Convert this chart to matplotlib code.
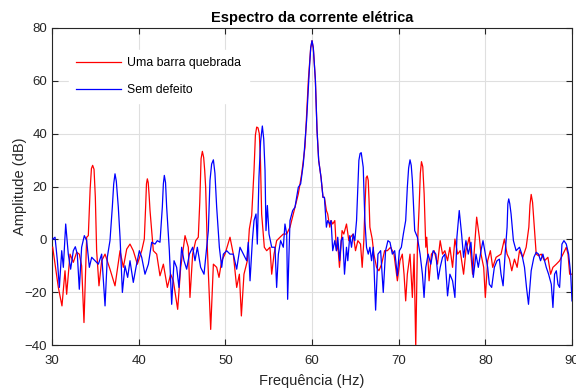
import matplotlib
matplotlib.use("Agg")
import matplotlib.pyplot as plt

# ---- data ----
freq_red = [30.08, 30.73, 31.15, 31.5, 31.69, 32.08, 32.46, 32.85, 33.15, 33.42, 33.69, 34.0, 34.19, 34.69,
            35.15, 35.42, 35.73, 36.12, 36.69, 37.27, 37.85, 38.23, 38.62, 39.0, 39.38, 39.85, 40.35, 40.65,
            41.0, 41.31, 41.69, 42.08, 42.46, 42.85, 43.31, 43.69, 44.0, 44.5, 44.85, 45.35, 45.73, 45.92,
            46.23, 46.58, 46.88, 47.35, 47.73, 47.92, 48.31, 48.62, 49.0, 49.27, 49.58, 49.96, 50.54, 50.92,
            51.31, 51.62, 51.85, 52.15, 52.54, 52.77, 53.04, 53.31, 53.62, 53.92, 54.19, 54.5, 54.77, 55.15,
            55.35, 55.62, 55.92, 56.31, 56.69, 57.08, 57.46, 58.04, 58.42, 58.81, 59.19, 59.58, 60.0,
            60.39, 60.58, 60.77, 61.04, 61.27, 61.43,
            61.66, 61.81, 62.05, 62.2, 62.39, 62.63, 62.82, 62.97, 63.17, 63.47, 63.67, 63.98, 64.25, 64.44,
            64.75, 65.02, 65.29, 65.6, 65.79, 65.98, 66.25, 66.49, 66.68, 66.95, 67.14, 67.45, 67.72, 68.03,
            68.38, 68.69, 69.07, 69.46, 69.85, 70.15, 70.42, 70.62, 70.81, 71.0, 71.31, 71.58, 71.78, 71.97,
            72.16, 72.36, 72.63, 72.94, 73.13, 73.24, 73.51, 73.78, 74.09, 74.48, 74.79, 75.06, 75.33, 75.64,
            75.91, 76.22, 76.49, 76.8, 77.1, 77.49, 77.76, 78.15, 78.53, 78.8, 79.0, 79.31, 79.5, 79.81,
            80.0, 80.27, 80.58, 80.85, 81.24, 81.81, 82.2, 82.51, 82.78, 83.05, 83.36, 83.67, 83.94, 84.32,
            84.71, 85.02, 85.29, 85.6, 85.87, 86.14, 86.45, 86.83, 87.22, 87.53, 87.8, 88.19, 88.57, 88.96,
            89.34, 89.54, 89.73, 90.0]
amp_red = [-3.0, -18.2, -25.2, -11.9, -20.8, -5.6, -8.7, -4.9, -5.6, -10.0, -31.5, 0.8, 1.4, 28.0,
           -4.3, -17.6, -8.1, -5.6, -11.3, -17.6, -4.3, -10.6, -3.7, -1.8, -4.3, -9.4, -4.3, 0.1,
           22.9, 10.9, -4.3, -5.6, -13.8, -9.4, -18.2, -13.2, -15.7, -26.5, -10.6, 1.4, -3.0, -22.0,
           -5.6, -0.5, 0.8, 33.3, 19.7, -3.0, -34.1, -9.4, -10.6, -14.4, -8.1, -5.6, 0.8, -5.6,
           -18.2, -13.2, -29.0, -13.2, -8.1, 3.9, 9.0, 26.1, 42.5, 40.0, 9.6, -3.0, -4.3, -3.0,
           -13.2, -5.6, -0.5, 0.8, 2.0, 2.0, 4.6, 12.2, 17.2, 24.8, 34.9, 60.3, 75.2,
           60.3, 41.3, 29.9, 23.5, 15.9, 15.9,
           10.9, 9.6, 4.6, 7.1, 5.8, 7.1, -4.3, -1.8, -10.6, 3.3, 2.0, 5.8, -0.5, 0.8,
           2.0, -4.3, -0.5, -1.8, -10.6, -0.5, 23.3, 22.3, 4.6, 0.1, -5.6, -10.6, -11.9, -9.4,
           -4.3, -4.3, -3.0, -5.6, -15.7, -8.1, -5.6, -13.2, -23.3, -13.2, -5.6, -22.0, -5.6, -41.0,
           -3.0, 12.2, 29.4, 17.2, -3.0, 0.8, -15.7, -5.6, -4.3, -9.4, -0.5, -5.6, -4.3, -8.1,
           -3.0, -10.6, 0.1, -5.6, -4.3, -13.2, -4.3, 0.8, -13.2, -0.5, 8.4, 0.8, -5.6, -10.6,
           -22.0, -8.1, -4.3, -10.6, -6.8, -5.6, 0.1, -5.6, -7.5, -11.9, -7.5, -10.6, -4.3, -6.8,
           -3.0, 4.6, 17.0, 7.1, -5.6, -6.2, -5.6, -8.1, -6.8, -13.2, -10.6, -9.4, -8.1, -5.6,
           -3.0, -5.6, -13.2, -13.2]
# extra points read along the rounded peak tops (red)
freq_red_peaks = [34.4, 34.55, 34.85, 35.0, 40.8, 40.9, 41.1, 41.2, 47.05, 47.2, 47.5, 47.62,
                  53.47, 53.77, 54.05, 59.85, 60.15, 66.1, 66.37, 66.58, 72.5, 72.78, 85.15, 85.45]
amp_red_peaks = [19.0, 26.8, 26.5, 16.0, 12.0, 21.0, 21.5, 17.0, 14.0, 30.5, 31.0, 26.0,
                 39.5, 42.2, 30.0, 72.5, 72.5, 12.0, 24.0, 15.0, 25.0, 27.5, 13.0, 14.0]

freq_blue = [30.08, 30.35, 30.62, 30.85, 31.12, 31.31, 31.58, 31.88, 32.15, 32.46, 32.69, 32.92, 33.15, 33.42,
             33.73, 34.0, 34.31, 34.58, 34.96, 35.35, 35.73, 36.12, 36.38, 36.69, 36.96, 37.27, 37.65, 37.85,
             38.12, 38.42, 38.73, 39.0, 39.38, 39.69, 40.08, 40.35, 40.73, 41.12, 41.5, 41.88, 42.15, 42.46,
             42.73, 42.96, 43.23, 43.54, 43.81, 44.08, 44.38, 44.65, 44.96, 45.23, 45.54, 45.85, 46.23, 46.5,
             46.77, 47.15, 47.54, 47.85, 48.04, 48.23, 48.62, 49.0, 49.31, 49.58, 49.77, 50.15, 50.54, 50.92,
             51.31, 51.69, 52.08, 52.46, 52.65, 52.85, 53.12, 53.31, 53.54, 53.69, 53.88, 54.27, 54.58, 54.69,
             54.85, 55.04, 55.35, 55.73, 55.92, 56.12, 56.38, 56.69, 56.88, 57.08, 57.19, 57.46, 57.77, 58.04,
             58.42, 58.69, 59.0, 59.38, 59.69, 60.0,
             60.39, 60.58, 60.77, 61.04, 61.27, 61.43,
             61.66, 61.81, 62.05, 62.2, 62.39, 62.63, 62.82, 62.97, 63.2, 63.36, 63.55, 63.75, 63.98, 64.13,
             64.36, 64.56, 64.75, 64.94, 65.14, 65.41, 65.68, 65.91, 66.1, 66.29, 66.49, 66.68, 66.87, 67.07,
             67.34, 67.61, 67.92, 68.22, 68.49, 68.76, 69.0, 69.27, 69.54, 69.85, 70.08, 70.31, 70.54, 70.81,
             71.0, 71.31, 71.58, 71.85, 72.16, 72.47, 72.74, 72.93, 73.13, 73.4, 73.71, 73.98, 74.29, 74.56,
             74.79, 75.06, 75.33, 75.64, 75.91, 76.22, 76.49, 76.72, 76.99, 77.26, 77.49, 77.76, 78.03, 78.34,
             78.61, 78.92, 79.19, 79.5, 79.73, 80.0, 80.27, 80.46, 80.73, 81.04, 81.35, 81.62, 81.81, 82.05,
             82.28, 82.51, 82.7, 82.97, 83.24, 83.55, 83.94, 84.21, 84.52, 84.75, 84.98, 85.29, 85.6, 85.87,
             86.14, 86.37, 86.64, 87.03, 87.3, 87.61, 87.8, 87.99, 88.19, 88.38, 88.57, 88.84, 89.07, 89.34,
             89.61, 89.85, 90.0]
amp_blue = [0.1, 0.8, -8.1, -18.2, -4.3, -10.6, 5.8, -5.6, -11.3, -4.3, -2.8, -5.6, -18.9, -3.0,
            1.4, -0.5, -10.6, -6.8, -8.1, -9.4, -5.6, -25.2, -6.8, -0.5, 12.2, 24.8, 12.2, 0.8,
            -20.1, -10.0, -14.4, -8.1, -16.3, -10.6, -4.3, -6.8, -13.2, -9.4, -1.1, -1.8, -0.5, -1.1,
            12.2, 24.2, 12.2, -4.3, -24.6, -8.1, -10.6, -18.2, -3.0, -8.1, -11.3, -5.6, -3.0, -8.1,
            -3.0, -10.6, -13.2, -3.0, 3.3, 22.3, 30.1, 12.2, -3.0, -10.6, -5.6, -4.3, -5.6, -5.6,
            -11.3, -3.0, -5.6, -8.1, -1.1, -15.7, -0.5, 7.1, 9.6, -1.8, 23.5, 42.9, 26.1, 3.3,
            12.8, 2.0, -3.0, -3.0, -18.2, -5.6, -0.5, -3.0, 5.8, 2.0, -22.7, 7.1, 10.9, 12.2,
            19.7, 21.0, 28.6, 45.1, 64.1, 75.2,
            60.3, 41.3, 29.9, 23.5, 15.9, 15.9,
            4.6, 7.1, 5.8, 7.1, -4.3, -0.5, -4.3, 0.8, -8.1, -0.5, 0.8, -13.2, -3.0, -8.1,
            1.4, -3.0, 2.0, -0.5, 7.1, 29.9, 32.8, 27.3, 7.1, -3.0, -5.6, -3.0, -8.1, -3.0,
            -26.8, -5.6, -4.3, -20.1, -4.3, -0.5, -1.1, -5.6, -4.3, -13.8, -4.3, -3.0, 2.0, 7.1,
            19.7, 30.1, 22.3, 3.3, 0.8, -5.6, -13.2, -22.0, -10.6, -5.6, -9.4, -4.3, -5.6, -15.1,
            -10.6, -6.8, -5.6, -21.4, -13.2, -15.7, -22.0, 0.8, 10.9, 2.0, -6.8, -0.5, -5.6, -1.1,
            -14.4, -5.6, -10.6, -4.3, -0.5, -5.6, -10.6, -17.0, -18.2, -10.6, -8.1, -7.5, -13.2, -17.6,
            -5.6, 4.6, 15.3, 9.6, -0.5, -4.3, -3.0, -5.6, -10.6, -18.2, -24.6, -11.9, -6.8, -4.9,
            -5.6, -8.1, -5.6, -10.6, -13.2, -17.0, -25.8, -13.2, -11.9, -17.0, -18.2, -1.8, -0.5, -1.8,
            -5.6, -13.2, -23.3]
# extra points read along the rounded peak tops (blue)
freq_blue_peaks = [37.12, 37.42, 42.85, 43.1, 48.42, 48.8, 54.07, 54.43, 59.85, 60.15,
                   65.55, 71.15, 71.45, 82.6, 82.82]
amp_blue_peaks = [21.0, 22.0, 21.0, 21.5, 28.5, 25.0, 37.0, 38.0, 72.5, 72.5,
                  32.5, 27.0, 28.0, 13.5, 13.5]

x_ticks = [30, 40, 50, 60, 70, 80, 90]
y_ticks = [-40, -20, 0, 20, 40, 60, 80]
label_red = "Uma barra quebrada"
label_blue = "Sem defeito"


def merged(xs, ys, xe, ye):
    pts = sorted(zip(list(xs) + list(xe), list(ys) + list(ye)))
    return [p[0] for p in pts], [p[1] for p in pts]


xr, yr = merged(freq_red, amp_red, freq_red_peaks, amp_red_peaks)
xb, yb = merged(freq_blue, amp_blue, freq_blue_peaks, amp_blue_peaks)

plt.rcParams['font.family'] = ['Liberation Sans', 'DejaVu Sans']
axc = '#262626'

fig = plt.figure(figsize=(5.76, 3.91), dpi=100)
ax = fig.add_axes([52/576, 1-345/391, 520/576, 317/391])

ax.plot(xr, yr, color='#ff0000', lw=0.9, label=label_red, zorder=3)
ax.plot(xb, yb, color='#0000ff', lw=0.9, label=label_blue, zorder=3)

ax.set_xlim(30, 90)
ax.set_ylim(-40, 80)
ax.set_xticks(x_ticks)
ax.set_yticks(y_ticks)
ax.grid(True, color='#dfdfdf', lw=0.8)
ax.set_axisbelow(True)
ax.tick_params(direction='in', length=4, width=0.8, colors=axc, labelsize=9.5,
               top=True, right=True, labelcolor=axc)
ax.tick_params(axis='x', pad=7.5)
for s in ax.spines.values():
    s.set_color(axc)
    s.set_linewidth(0.8)

ax.set_xlabel('Frequência (Hz)', fontsize=10.5, color=axc, labelpad=4.5)
ax.set_ylabel('Amplitude (dB)', fontsize=10.5, color=axc, labelpad=-2)
ax.set_title('Espectro da corrente elétrica', fontsize=10.5, fontweight='bold', color='black', pad=4)

leg = ax.legend(loc='upper left', bbox_to_anchor=(0.02, 0.95), frameon=True, fontsize=8.8,
                handlelength=3.7, labelspacing=1.2, borderpad=0.6, handletextpad=0.5)
leg.get_frame().set_edgecolor('white')
leg.get_frame().set_facecolor('white')
leg.get_frame().set_alpha(1)
leg.get_frame().set_boxstyle('square', pad=0.0)

fig.savefig('out.png', dpi=100)
